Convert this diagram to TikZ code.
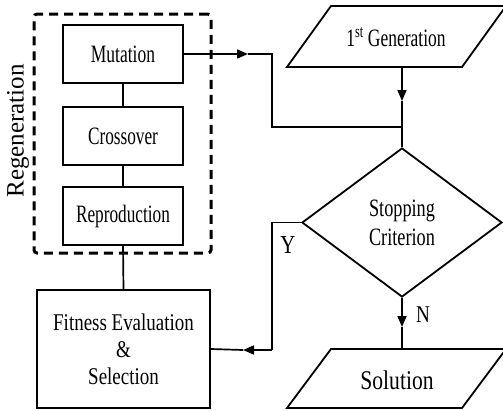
\documentclass[tikz,border=0pt]{standalone}
\usepackage{fontspec}
\setmainfont{Liberation Serif}
\usetikzlibrary{arrows.meta,shapes.geometric}
\newcommand{\cnd}[2][0.7]{\scalebox{#1}[1]{#2}}
\begin{document}
\begin{tikzpicture}[x=1pt,y=-1pt,
  box/.style={draw, line width=1.8pt, minimum width=120pt, minimum height=58pt, inner sep=0pt,
              font=\fontsize{25}{29}\selectfont, align=center},
  regbox/.style={draw, line width=3pt, dash pattern=on 9pt off 6pt, rounded corners=3pt,
                 minimum width=177pt, minimum height=239pt, inner sep=0pt},
  pgram/.style={draw, line width=1.8pt, line join=miter},
  lbl/.style={font=\fontsize{25}{29}\selectfont, align=center, inner sep=0pt},
  conn/.style={line width=1.7pt},
  tip/.style={-{Triangle[length=11pt,width=9pt]}}
]
\useasboundingbox (0,0) rectangle (503,410);

% regeneration group
\node[regbox] (reg) at (122.5,133.5) {};
\node[rotate=90, font=\fontsize{25}{28}\selectfont, inner sep=0pt] (regl) at (18,131) {Regeneration};
\node[box] (mut) at (123,54) {\cnd{Mutation}};
\node[box] (cross) at (123,136) {\cnd[0.69]{Crossover}};
\node[box] (rep) at (123,216) {\cnd[0.69]{Reproduction}};
\node[box, minimum width=173pt, minimum height=118pt, font=\fontsize{24}{27}\selectfont] (fit) at (123.5,349)
  {\cnd[0.79]{Fitness Evaluation}\\\cnd[0.79]{\&}\\\cnd[0.79]{Selection}};

% 1st generation
\draw[pgram] (331,6) -- (506,6) -- (462,67) -- (287,67) -- cycle;
\node[lbl] (gen) at (396,37) {\cnd{1\textsuperscript{st} Generation}};
\coordinate (genb) at (402,67);

% decision
\node[diamond, draw, line width=1.8pt, minimum width=200pt, minimum height=149pt,
      inner sep=0pt, aspect=1.34, align=center, font=\fontsize{25}{29}\selectfont]
  (stop) at (402,222.5) {\cnd[0.73]{Stopping}\\\cnd[0.73]{Criterion}};

% solution
\draw[pgram] (331,349) -- (506,349) -- (462,408) -- (287,408) -- cycle;
\node[lbl] (sol) at (397,380) {\fontsize{27}{30}\selectfont\cnd[0.8]{Solution}};
\coordinate (solt) at (402,349);

% chain inside regeneration
\draw[conn] (mut.south) -- (cross.north);
\draw[conn] (cross.south) -- (rep.north);
\draw[conn] (rep.south) -- (fit.north);

% mutation to decision
\coordinate (m1) at (248,54);
\coordinate (m2) at (272,54);
\coordinate (m3) at (272,127);
\coordinate (m4) at (402,127);
\draw[conn,tip] (mut.east) -- (m1);
\draw[conn] (m1) -- (m2) -- (m3) -- (m4);

% generation to decision
\coordinate (g1) at (402,101);
\draw[conn,tip] (genb) -- (g1);
\draw[conn] (g1) -- (stop.north);

% Y branch
\coordinate (y1) at (272,222.5);
\coordinate (y2) at (272,350);
\coordinate (y3) at (243,350);
\draw[conn] (stop.west) -- (y1) -- (y2);
\draw[conn,tip] (y2) -- (y3);
\draw[conn] (y3) -- (fit.east);
\node[lbl, font=\fontsize{26}{29}\selectfont] (ylab) at (288,245) {\cnd[0.8]{Y}};

% N branch
\coordinate (n1) at (402,327);
\draw[conn,tip] (stop.south) -- (n1);
\draw[conn] (n1) -- (solt);
\node[lbl, font=\fontsize{24}{29}\selectfont] (nlab) at (423,315) {\cnd[0.8]{N}};
\end{tikzpicture}
\end{document}
